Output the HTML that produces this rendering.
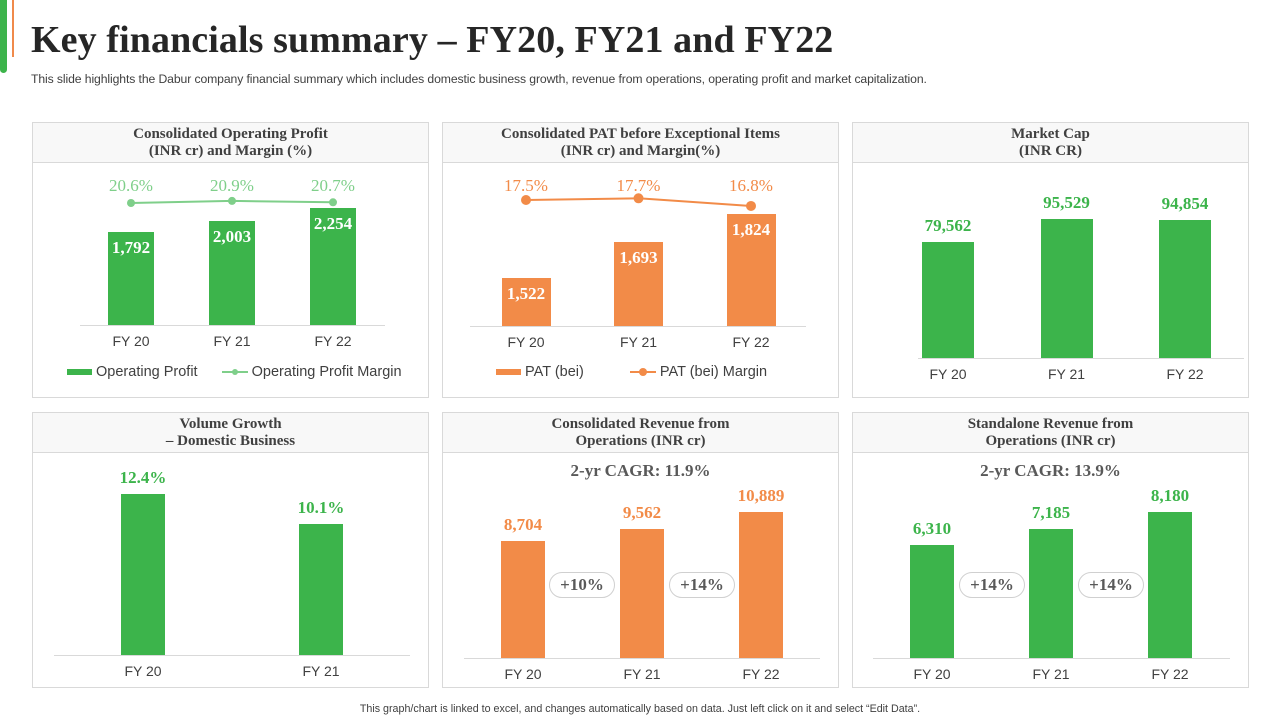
<!DOCTYPE html>
<html><head><meta charset="utf-8">
<style>
*{margin:0;padding:0;box-sizing:border-box}
body{width:1280px;height:720px;background:#fff;position:relative;overflow:hidden;font-family:"Liberation Sans",sans-serif}
.abs{position:absolute}
.panel{position:absolute;border:1px solid #d9d9d9;background:#fff}
.ph{position:absolute;left:0;right:0;top:0;height:40px;background:#f8f8f8;border-bottom:1px solid #d9d9d9;text-align:center;font-family:"Liberation Serif",serif;font-weight:bold;font-size:15px;color:#404040;line-height:17px;padding-top:3px}
.serif{font-family:"Liberation Serif",serif;font-weight:bold}
.pill{position:absolute;height:26px;border:1px solid #d0d0d0;border-radius:13px;font-family:"Liberation Serif",serif;font-weight:bold;font-size:17px;color:#595959;text-align:center;line-height:24px;background:#fff}
</style></head>
<body>
<div class="abs" style="left:0;top:0;width:7px;height:73px;background:#3cb44b;border-radius:0 0 4px 4px"></div>
<div class="abs" style="left:12px;top:0;width:2px;height:57px;background:#f08a4b"></div>
<div class="abs serif" style="left:31px;top:18px;font-size:38px;color:#262626;white-space:nowrap;letter-spacing:0.1px">Key financials summary – FY20, FY21 and FY22</div>
<div class="abs" style="left:31px;top:72px;font-size:12.2px;color:#404040;white-space:nowrap;letter-spacing:-0.1px">This slide highlights the Dabur company financial summary which includes domestic business growth, revenue from operations, operating profit and market capitalization.</div>

<div class="panel" style="left:32px;top:122px;width:397px;height:276px"><div class="ph">Consolidated Operating Profit<br>(INR cr) and Margin (%)</div></div>
<div class="panel" style="left:442px;top:122px;width:397px;height:276px"><div class="ph">Consolidated PAT before Exceptional Items<br>(INR cr) and Margin(%)</div></div>
<div class="panel" style="left:852px;top:122px;width:397px;height:276px"><div class="ph">Market Cap<br>(INR CR)</div></div>
<div class="panel" style="left:32px;top:412px;width:397px;height:276px"><div class="ph">Volume Growth<br>– Domestic Business</div></div>
<div class="panel" style="left:442px;top:412px;width:397px;height:276px"><div class="ph">Consolidated Revenue from<br>Operations (INR cr)</div></div>
<div class="panel" style="left:852px;top:412px;width:397px;height:276px"><div class="ph">Standalone Revenue from<br>Operations (INR cr)</div></div>

<div class="abs serif" style="left:442px;width:397px;top:461px;text-align:center;font-size:17px;color:#595959">2-yr CAGR: 11.9%</div>
<div class="abs serif" style="left:852px;width:397px;top:461px;text-align:center;font-size:17px;color:#595959">2-yr CAGR: 13.9%</div>
<div class="pill" style="left:549px;top:572px;width:66px">+10%</div>
<div class="pill" style="left:669px;top:572px;width:66px">+14%</div>
<div class="pill" style="left:959px;top:572px;width:66px">+14%</div>
<div class="pill" style="left:1078px;top:572px;width:66px">+14%</div>

<div class="abs" style="left:67px;top:364px;font-size:14.5px;color:#404040;white-space:nowrap">
<span style="display:inline-block;width:25px;height:6px;background:#3cb44b;vertical-align:middle"></span> Operating Profit
<span style="display:inline-block;width:26px;height:2px;background:#7fcf8a;vertical-align:middle;margin-left:20px;position:relative"><span style="position:absolute;left:10px;top:-2px;width:6px;height:6px;border-radius:3px;background:#7fcf8a"></span></span> Operating Profit Margin</div>
<div class="abs" style="left:496px;top:364px;font-size:14.5px;color:#404040;white-space:nowrap">
<span style="display:inline-block;width:25px;height:6px;background:#f28b48;vertical-align:middle"></span> PAT (bei)
<span style="display:inline-block;width:26px;height:2px;background:#f28b48;vertical-align:middle;margin-left:42px;position:relative"><span style="position:absolute;left:9px;top:-3px;width:8px;height:8px;border-radius:4px;background:#f28b48"></span></span> PAT (bei) Margin</div>

<div class="abs" style="left:0;width:1280px;top:703px;text-align:center;font-size:10.7px;color:#404040">This graph/chart is linked to excel, and changes automatically based on data. Just left click on it and select “Edit Data”.</div>

<svg id="lines" class="abs" style="left:0;top:0" width="1280" height="720"></svg>

<script>
const years3 = ["FY 20","FY 21","FY 22"];
const years2 = ["FY 20","FY 21"];
const opProfit = [1792, 2003, 2254];
const opMargin = [20.6, 20.9, 20.7];
const patValues = [1522, 1693, 1824];
const patMargin = [17.5, 17.7, 16.8];
const marketCap = [79562, 95529, 94854];
const volumeGrowth = [12.4, 10.1];
const consRevenue = [8704, 9562, 10889];
const saRevenue = [6310, 7185, 8180];

const GREEN="#3cb44b", ORANGE="#f28b48";
function fmt(v){return v.toLocaleString('en-US');}
function el(tag,css,txt){const d=document.createElement(tag);d.style.cssText=css;if(txt!==undefined)d.textContent=txt;document.body.appendChild(d);return d;}

function drawBars(cfg){
  const ax=el('div',`position:absolute;left:${cfg.x0}px;top:${cfg.base}px;width:${cfg.x1-cfg.x0}px;height:1px;background:#d9d9d9`);
  
  
  cfg.values.forEach((v,i)=>{
    const cx=cfg.cx[0]+i*cfg.step;
    const h=(v-cfg.min)*cfg.scale;
    const top=cfg.base-h;
    const b=el('div',`position:absolute;left:${cx-cfg.w/2}px;top:${top}px;width:${cfg.w}px;height:${h}px;background:${cfg.color}`);
    
    
    const txt=cfg.pct?v.toFixed(1)+'%':fmt(v);
    const l=el('div',`position:absolute;left:${cx}px;top:${cfg.inside?top+6:top-26}px;transform:translateX(-50%);font-family:'Liberation Serif',serif;font-weight:bold;font-size:17px;color:${cfg.inside?'#fff':cfg.color};white-space:nowrap`,txt);
    
    
    const c=el('div',`position:absolute;left:${cx}px;top:${cfg.base+8}px;transform:translateX(-50%);font-size:14px;color:#404040;white-space:nowrap`,cfg.cats[i]);
    
    
  });
}
function drawLine(cfg){
  const svg=document.getElementById('lines');
  const pts=cfg.values.map((v,i)=>[cfg.cx+i*cfg.step, cfg.refY-(v-cfg.ref)*cfg.scale]);
  const pl=document.createElementNS('http://www.w3.org/2000/svg','polyline');
  pl.setAttribute('points',pts.map(p=>p.join(',')).join(' '));
  pl.setAttribute('fill','none');pl.setAttribute('stroke',cfg.color);pl.setAttribute('stroke-width','2');
  
  
  svg.appendChild(pl);
  pts.forEach((p,i)=>{
    const c=document.createElementNS('http://www.w3.org/2000/svg','circle');
    c.setAttribute('cx',p[0]);c.setAttribute('cy',p[1]);c.setAttribute('r',cfg.r);c.setAttribute('fill',cfg.color);
    
    
    svg.appendChild(c);
    const l=el('div',`position:absolute;left:${p[0]}px;top:${cfg.labelY}px;transform:translateX(-50%);font-family:'Liberation Serif',serif;font-size:17px;color:${cfg.color};white-space:nowrap`,cfg.values[i].toFixed(1)+'%');
    
    
  });
}

drawBars({name:'operating-profit',values:opProfit,cats:years3,cx:[131],step:101,w:46,base:325,min:0,scale:0.0519,color:GREEN,inside:true,x0:80,x1:385});
drawLine({name:'operating-margin',values:opMargin,cx:131,step:101,ref:20.6,refY:203,scale:7,color:'#7fcf8a',r:4,labelY:176});
drawBars({name:'pat',values:patValues,cats:years3,cx:[526],step:112.5,w:49,base:326,min:1295,scale:0.2117,color:ORANGE,inside:true,x0:470,x1:806});
drawLine({name:'pat-margin',values:patMargin,cx:526,step:112.5,ref:17.5,refY:200,scale:8.5,color:ORANGE,r:5,labelY:176});
drawBars({name:'market-cap',values:marketCap,cats:years3,cx:[948],step:118.5,w:52,base:358,min:0,scale:0.001458,color:GREEN,inside:false,x0:918,x1:1244});
drawBars({name:'volume-growth',values:volumeGrowth,cats:years2,cx:[143],step:178,w:44,base:655,min:0,scale:13,color:GREEN,inside:false,x0:54,x1:410,pct:true});
drawBars({name:'consolidated-revenue',values:consRevenue,cats:years3,cx:[523],step:119,w:44,base:658,min:0,scale:0.01344,color:ORANGE,inside:false,x0:464,x1:820});
drawBars({name:'standalone-revenue',values:saRevenue,cats:years3,cx:[932],step:119,w:44,base:658,min:0,scale:0.0179,color:GREEN,inside:false,x0:873,x1:1230});
</script>
</body></html>
